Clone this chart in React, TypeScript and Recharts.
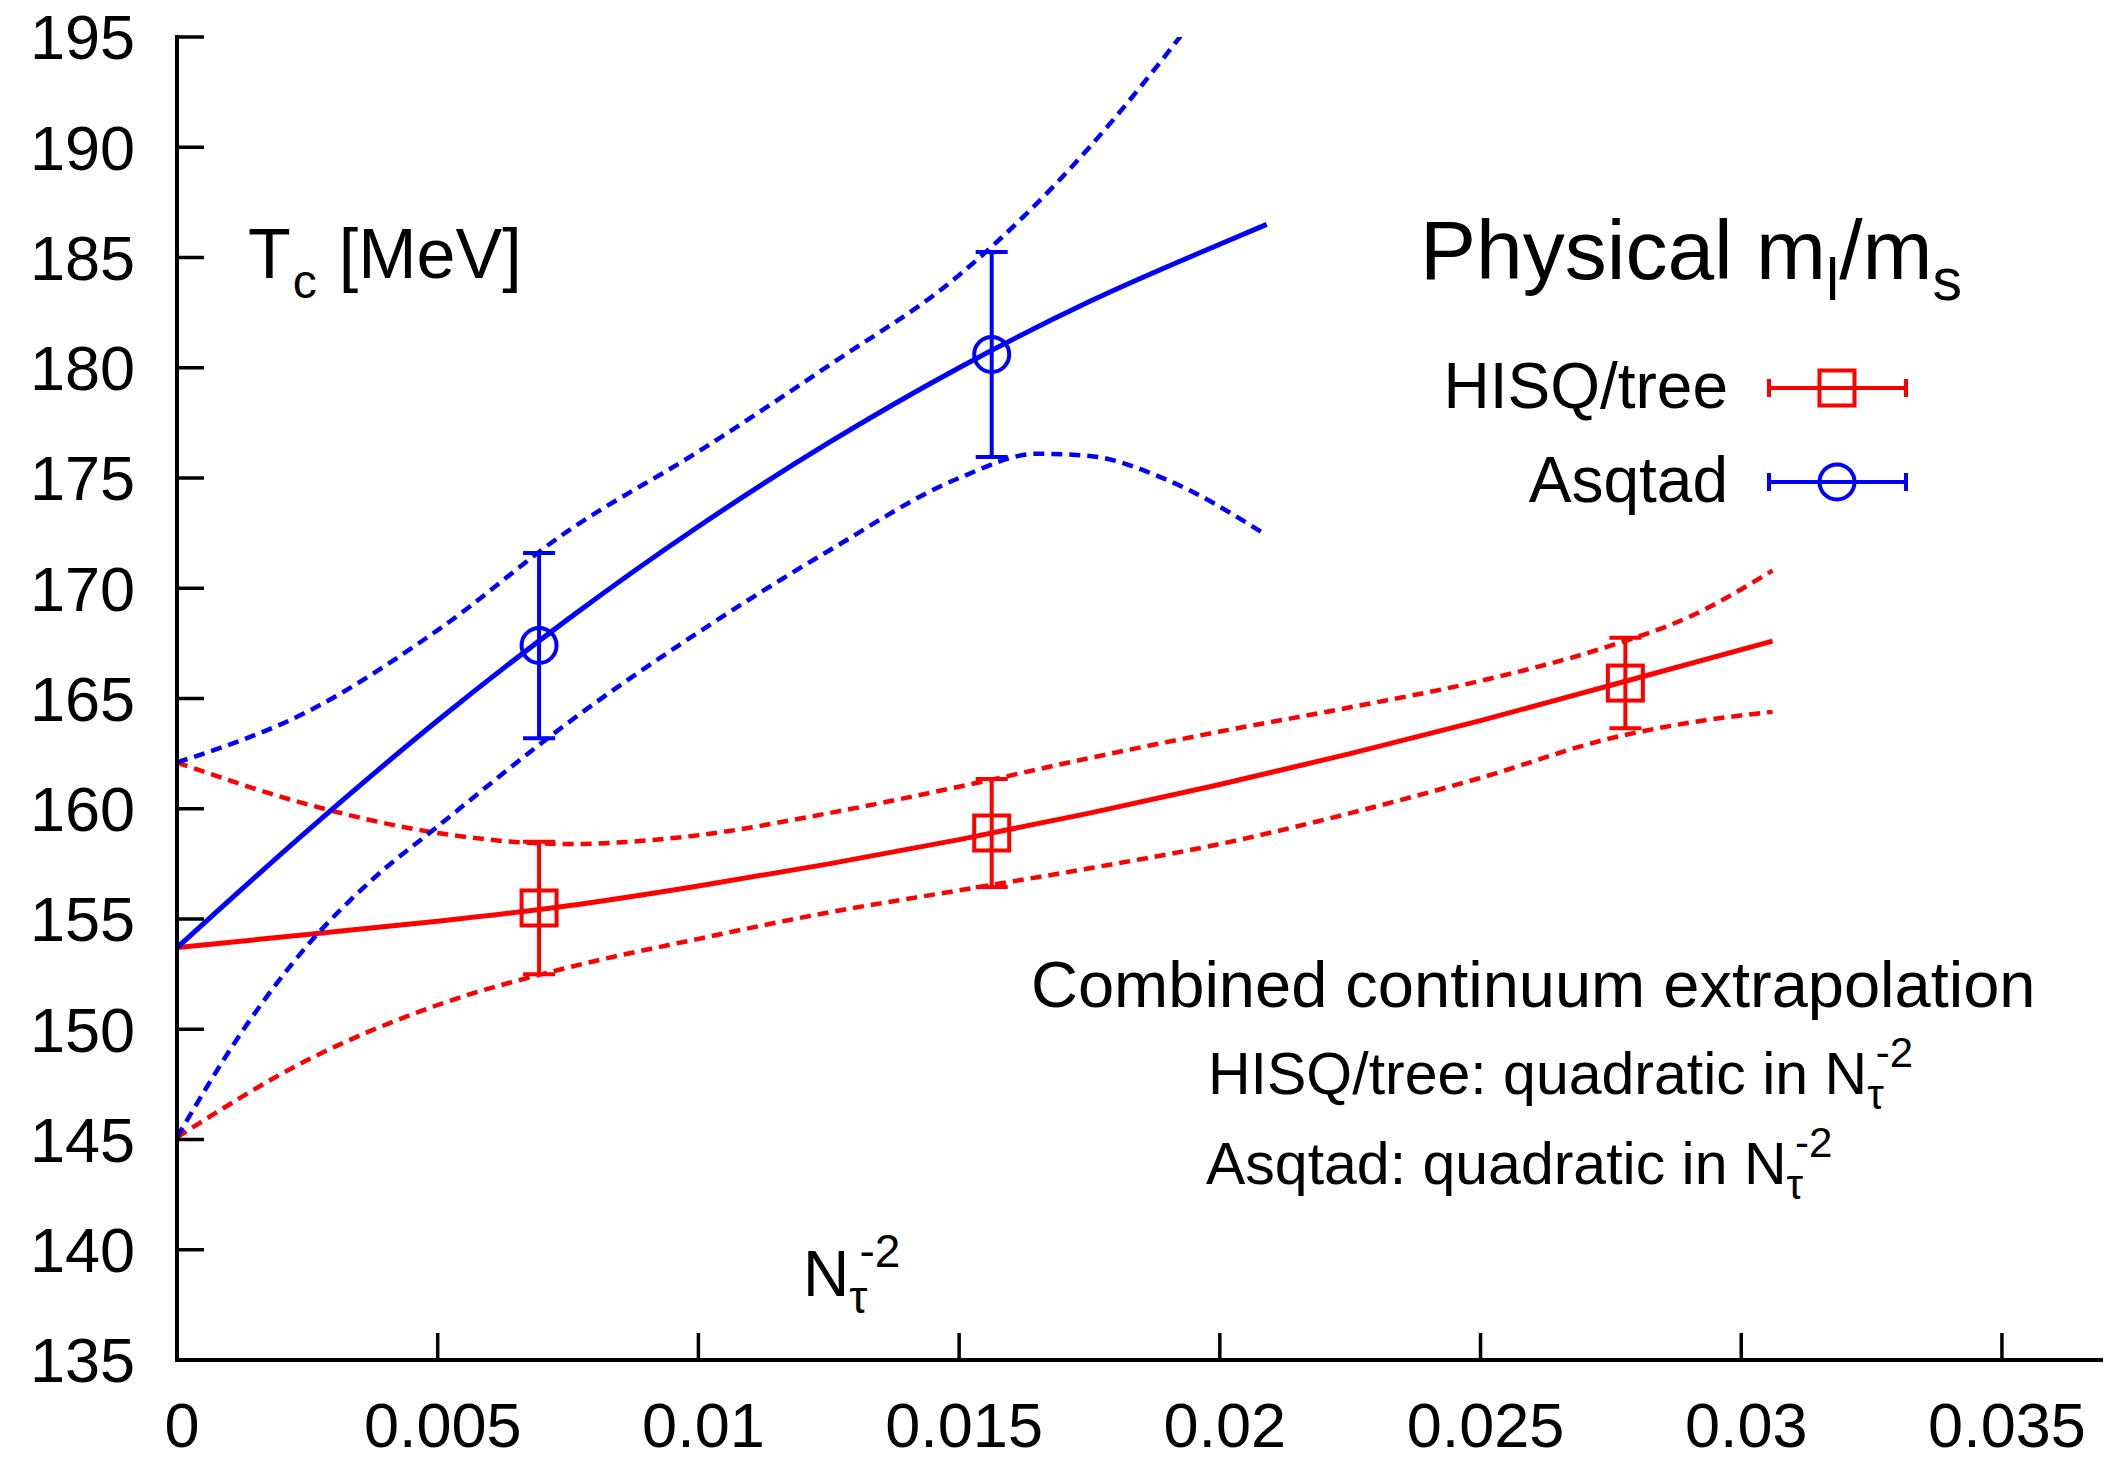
import { ComposedChart, Line, Scatter, ErrorBar, XAxis, YAxis } from "recharts";

const xTicks = [0, 0.005, 0.01, 0.015, 0.02, 0.025, 0.03, 0.035];
const yTicks = [135, 140, 145, 150, 155, 160, 165, 170, 175, 180, 185, 190, 195];

// lattice data at 1/Nt^2 for Nt = 12, 8, 6
const hisqPoints = [
  { x: 0.006944, y: 155.5, err: 3.0 },
  { x: 0.015625, y: 158.9, err: 2.45 },
  { x: 0.027778, y: 165.7, err: 2.05 },
];
const asqtadPoints = [
  { x: 0.006944, y: 167.4, err: 4.2 },
  { x: 0.015625, y: 180.6, err: 4.65 },
];

// continuum fits
const hisqFit = [
  { x: 0, y: 153.7 }, { x: 0.0025, y: 154.3 }, { x: 0.005, y: 154.9 }, { x: 0.0075, y: 155.6 },
  { x: 0.01, y: 156.5 }, { x: 0.0125, y: 157.5 }, { x: 0.015, y: 158.6 }, { x: 0.0175, y: 159.8 },
  { x: 0.02, y: 161.1 }, { x: 0.0225, y: 162.5 }, { x: 0.025, y: 164.0 }, { x: 0.0275, y: 165.6 },
  { x: 0.0306, y: 167.6 },
];
const hisqUpper = [
  { x: 0, y: 162.1 }, { x: 0.0025, y: 160.2 }, { x: 0.005, y: 158.9 }, { x: 0.0075, y: 158.4 },
  { x: 0.01, y: 158.8 }, { x: 0.0125, y: 159.8 }, { x: 0.015, y: 161.0 }, { x: 0.0175, y: 162.3 },
  { x: 0.02, y: 163.5 }, { x: 0.0225, y: 164.6 }, { x: 0.025, y: 165.8 }, { x: 0.0275, y: 167.4 },
  { x: 0.029, y: 168.7 }, { x: 0.0306, y: 170.8 },
];
const hisqLower = [
  { x: 0, y: 145.1 }, { x: 0.0025, y: 148.6 }, { x: 0.005, y: 151.1 }, { x: 0.0075, y: 152.8 },
  { x: 0.01, y: 154.1 }, { x: 0.0125, y: 155.3 }, { x: 0.015, y: 156.3 }, { x: 0.0175, y: 157.3 },
  { x: 0.02, y: 158.4 }, { x: 0.0225, y: 159.8 }, { x: 0.025, y: 161.4 }, { x: 0.0275, y: 163.2 },
  { x: 0.029, y: 163.9 }, { x: 0.0306, y: 164.4 },
];
const asqtadFit = [
  { x: 0, y: 153.7 }, { x: 0.0025, y: 159.0 }, { x: 0.005, y: 164.0 }, { x: 0.0075, y: 168.6 },
  { x: 0.01, y: 172.8 }, { x: 0.0125, y: 176.6 }, { x: 0.015, y: 180.0 }, { x: 0.0175, y: 183.0 },
  { x: 0.02, y: 185.6 }, { x: 0.0209, y: 186.5 },
];
const asqtadUpper = [
  { x: 0, y: 162.1 }, { x: 0.0025, y: 164.4 }, { x: 0.005, y: 168.1 }, { x: 0.0075, y: 172.6 },
  { x: 0.01, y: 176.2 }, { x: 0.0125, y: 180.1 }, { x: 0.015, y: 184.2 }, { x: 0.0175, y: 190.0 },
  { x: 0.0185, y: 192.8 }, { x: 0.0193, y: 195.2 },
];
const asqtadLower = [
  { x: 0, y: 145.1 }, { x: 0.00125, y: 149.9 }, { x: 0.0025, y: 153.8 }, { x: 0.00375, y: 156.8 },
  { x: 0.005, y: 159.2 }, { x: 0.0075, y: 163.9 }, { x: 0.01, y: 168.0 }, { x: 0.0125, y: 171.7 },
  { x: 0.015, y: 175.0 }, { x: 0.0165, y: 176.1 }, { x: 0.0175, y: 176.0 }, { x: 0.019, y: 174.9 },
  { x: 0.0209, y: 172.4 },
];

const RED = "#ff0000";
const BLUE = "#0000ff";
const FONT = "'Liberation Sans', Arial, Helvetica, sans-serif";
const DASH = "11 7";

const axisLine = { stroke: "#000", strokeWidth: 4, strokeLinecap: "square" as const };
const tickLine = { stroke: "#000", strokeWidth: 3.5 };
const tickText = { fill: "#000", fontSize: 63, fontFamily: FONT };
const blank = () => "";

function SquareMark(props: any) {
  const { cx, cy } = props;
  return <rect x={cx - 17.5} y={cy - 17.5} width={35} height={35} fill="none" stroke={RED} strokeWidth={4} />;
}

function CircleMark(props: any) {
  const { cx, cy } = props;
  return <circle cx={cx} cy={cy} r={17.5} fill="none" stroke={BLUE} strokeWidth={4} />;
}

function Overlay() {
  return (
    <svg
      width={2105}
      height={1461}
      style={{ position: "absolute", left: 0, top: 0, pointerEvents: "none" }}
      fontFamily={FONT}
    >
      <text x={248} y={278} fontSize={70}>
        T<tspan fontSize={48} dy={20} dx={2}>c</tspan>
        <tspan dy={-20} dx={22}>[MeV]</tspan>
      </text>
      <text x={1420} y={279} fontSize={84}>
        Physical m<tspan fontSize={59} dy={21}>l</tspan>
        <tspan dy={-21}>/m</tspan>
        <tspan fontSize={59} dy={21}>s</tspan>
      </text>

      <text x={1728} y={408} fontSize={64} textAnchor="end">HISQ/tree</text>
      <g stroke={RED} strokeWidth={4} fill="none">
        <line x1={1769} y1={388} x2={1906} y2={388} />
        <line x1={1769} y1={379} x2={1769} y2={397} />
        <line x1={1906} y1={379} x2={1906} y2={397} />
        <rect x={1819.5} y={370.5} width={35} height={35} />
      </g>
      <text x={1728} y={502} fontSize={64} textAnchor="end">Asqtad</text>
      <g stroke={BLUE} strokeWidth={4} fill="none">
        <line x1={1769} y1={482} x2={1906} y2={482} />
        <line x1={1769} y1={473} x2={1769} y2={491} />
        <line x1={1906} y1={473} x2={1906} y2={491} />
        <circle cx={1837} cy={482} r={17.5} />
      </g>

      <text x={1031} y={1007} fontSize={65}>Combined continuum extrapolation</text>
      <text x={1208} y={1094} fontSize={59}>
        HISQ/tree: quadratic in N<tspan fontSize={42} dy={15}>τ</tspan>
        <tspan fontSize={42} dy={-42} dx={-8}>-2</tspan>
      </text>
      <text x={1206} y={1184} fontSize={59}>
        Asqtad: quadratic in N<tspan fontSize={42} dy={15}>τ</tspan>
        <tspan fontSize={42} dy={-42} dx={-8}>-2</tspan>
      </text>
      <text x={803} y={1296} fontSize={64}>
        N<tspan fontSize={46} dy={17}>τ</tspan>
        <tspan fontSize={46} dy={-46} dx={-8}>-2</tspan>
      </text>
    </svg>
  );
}

export default function App() {
  return (
    <div style={{ position: "absolute", left: 0, top: 0, width: 2105, height: 1461, background: "#fff" }}>
      <ComposedChart width={2105} height={1461} margin={{ top: 37, right: 4, bottom: 0, left: 17 }}>
        <XAxis
          dataKey="x"
          type="number"
          domain={[0, 0.0369]}
          allowDataOverflow
          ticks={xTicks}
          interval={0}
          height={101}
          tickSize={-27}
          tickMargin={69}
          axisLine={axisLine}
          tickLine={tickLine}
          tick={{ ...tickText, dx: 5 }}
          tickFormatter={(v: number) => String(v)}
        />
        <XAxis
          xAxisId="top"
          orientation="top"
          type="number"
          domain={[0, 0.0369]}
          allowDataOverflow
          ticks={xTicks}
          interval={0}
          height={0}
          tickSize={-27}
          axisLine={axisLine}
          tickLine={tickLine}
          tickFormatter={blank}
        />
        <YAxis
          dataKey="y"
          type="number"
          domain={[135, 195]}
          allowDataOverflow
          ticks={yTicks}
          interval={0}
          width={160}
          tickSize={-27}
          tickMargin={69}
          axisLine={axisLine}
          tickLine={tickLine}
          tick={tickText}
        />
        <YAxis
          yAxisId="right"
          orientation="right"
          type="number"
          domain={[135, 195]}
          allowDataOverflow
          ticks={yTicks}
          interval={0}
          width={0}
          tickSize={-27}
          axisLine={axisLine}
          tickLine={tickLine}
          tickFormatter={blank}
        />

        <Line data={hisqUpper} dataKey="y" type="monotone" stroke={RED} strokeWidth={4.5} strokeDasharray={DASH} dot={false} isAnimationActive={false} />
        <Line data={hisqLower} dataKey="y" type="monotone" stroke={RED} strokeWidth={4.5} strokeDasharray={DASH} dot={false} isAnimationActive={false} />
        <Line data={hisqFit} dataKey="y" type="monotone" stroke={RED} strokeWidth={5} dot={false} isAnimationActive={false} />
        <Line data={asqtadUpper} dataKey="y" type="monotone" stroke={BLUE} strokeWidth={4.5} strokeDasharray={DASH} dot={false} isAnimationActive={false} />
        <Line data={asqtadLower} dataKey="y" type="monotone" stroke={BLUE} strokeWidth={4.5} strokeDasharray={DASH} dot={false} isAnimationActive={false} />
        <Line data={asqtadFit} dataKey="y" type="monotone" stroke={BLUE} strokeWidth={5} dot={false} isAnimationActive={false} />

        <Scatter data={hisqPoints} shape={SquareMark} isAnimationActive={false}>
          <ErrorBar dataKey="err" direction="y" width={16} stroke={RED} strokeWidth={4} isAnimationActive={false} />
        </Scatter>
        <Scatter data={asqtadPoints} shape={CircleMark} isAnimationActive={false}>
          <ErrorBar dataKey="err" direction="y" width={16} stroke={BLUE} strokeWidth={4} isAnimationActive={false} />
        </Scatter>
      </ComposedChart>
      <Overlay />
    </div>
  );
}
